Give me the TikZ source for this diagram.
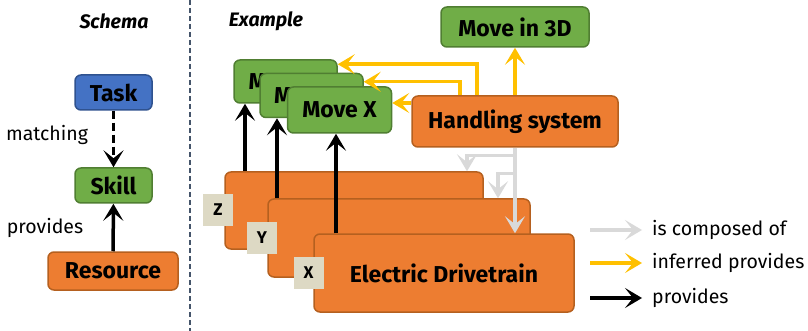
\documentclass[tikz,border=0pt]{standalone}
\usepackage{fontspec}
\setmainfont{Fira Sans}
\usetikzlibrary{arrows.meta,calc}
\definecolor{taskfill}{HTML}{4472C4}
\definecolor{taskline}{HTML}{2F528F}
\definecolor{skillfill}{HTML}{70AD47}
\definecolor{skillline}{HTML}{507E32}
\definecolor{resfill}{HTML}{ED7D31}
\definecolor{resline}{HTML}{B5601F}
\definecolor{tagfill}{HTML}{DDD9C4}
\definecolor{infcol}{HTML}{FFC000}
\definecolor{compcol}{HTML}{D9D9D9}
\definecolor{sepcol}{HTML}{44546A}
\begin{document}
\begin{tikzpicture}[x=1pt,y=-1pt,
  box/.style={draw, line width=1.5pt, rounded corners=6pt, inner sep=0pt,
    font=\fontsize{23}{26}\selectfont\bfseries},
  taskbox/.style={box, fill=taskfill, draw=taskline},
  skillbox/.style={box, fill=skillfill, draw=skillline},
  resbox/.style={box, fill=resfill, draw=resline},
  tag/.style={fill=tagfill, minimum width=30pt, minimum height=32pt, inner sep=0pt,
    font=\fontsize{17}{20}\selectfont\bfseries},
  txt/.style={font=\fontsize{19.5}{23}\selectfont},
  prov/.style={line width=3.5pt, -{Stealth[length=17pt,width=20pt,inset=8pt]}},
  inf/.style={prov, draw=infcol},
  comp/.style={prov, draw=compcol},
]
\useasboundingbox (0,0) rectangle (808,331);

% schema
\node[font=\fontsize{19.5}{23}\selectfont\bfseries\itshape] (schema) at (114,21) {Schema};
\node[taskbox, minimum width=77pt, minimum height=35pt] (task) at (113.5,92.5) {Task};
\node[skillbox, minimum width=77pt, minimum height=35pt] (skill) at (113.5,185.5) {Skill};
\node[resbox, minimum width=130pt, minimum height=38pt] (res) at (113,271) {Resource};
\node[txt] (match) at (47,135) {matching};
\node[txt] (provl) at (45,228) {provides};
\draw[prov, dash pattern=on 8pt off 4pt] (task) -- (skill);
\draw[prov] (res) -- (skill);

\draw[sepcol, line width=1.5pt, dash pattern=on 5pt off 3pt] (190,0) -- (190,331);

% example
\node[font=\fontsize{19.5}{23}\selectfont\bfseries\itshape] (example) at (266,21) {Example};
\node[skillbox, minimum width=148pt, minimum height=40pt] (mv3d) at (515,27) {Move in 3D};
\node[skillbox, minimum width=103pt, minimum height=43pt] (mvz) at (285.5,81.5) {Move Z};
\node[skillbox, minimum width=103pt, minimum height=44pt] (mvy) at (311.5,95.5) {Move Y};
\node[skillbox, minimum width=104pt, minimum height=46pt] (mvx) at (339.5,110) {Move X};
\node[resbox, minimum width=206pt, minimum height=51pt] (hs) at (515,121.5) {Handling system};

\node[resbox, minimum width=258pt, minimum height=77pt] (edz) at (354,210.5) {};
\node[tag] (tz) at (218,210) {Z};
\node[resbox, minimum width=262pt, minimum height=78pt] (edy) at (399,238) {};
\node[tag] (ty) at (262,237.5) {Y};
\node[resbox, minimum width=260pt, minimum height=78pt] (edx) at (444,273) {Electric Drivetrain};
\node[tag] (tx) at (308.5,273) {X};

% drivetrains provide the single moves
\draw[prov] ([xshift=-40.5pt]mvz.south |- edz.north) -- ([xshift=-40.5pt]mvz.south);
\draw[prov] ([xshift=-34.5pt]mvy.south |- edy.north) -- ([xshift=-34.5pt]mvy.south);
\draw[prov] ([xshift=-3.5pt]mvx.south |- edx.north) -- ([xshift=-3.5pt]mvx.south);

% handling system and its parts
\draw[inf] ([xshift=-38pt]hs.north) |- ([yshift=-5pt]mvz.north east);
\draw[inf] ([xshift=-55pt]hs.north) |- ([yshift=-9pt]mvy.north east);
\draw[inf] ([yshift=18.5pt]hs.west) -- ([yshift=18.5pt]hs.west -| mvx.east);
\draw[inf] (hs.north) -- (mv3d.south);
\draw[comp] ([yshift=-8pt]hs.south) -| ([xshift=113pt]edz.north);
\draw[comp] ([yshift=-26pt]hs.south) -| ([xshift=99pt]edy.north);
\draw[comp] (hs.south) -- (hs.south |- edx.north);

% legend
\node[txt, anchor=west, inner sep=0pt] (lcomp) at (652,230) {is composed of};
\node[txt, anchor=west, inner sep=0pt] (linf) at (652,263) {inferred provides};
\node[txt, anchor=west, inner sep=0pt] (lprov) at (652,298) {provides};
\draw[comp] ([xshift=-62pt]lcomp.west) -- ([xshift=-10pt]lcomp.west);
\draw[inf] ([xshift=-62pt]linf.west) -- ([xshift=-10pt]linf.west);
\draw[prov] ([xshift=-62pt]lprov.west) -- ([xshift=-10pt]lprov.west);
\end{tikzpicture}
\end{document}
